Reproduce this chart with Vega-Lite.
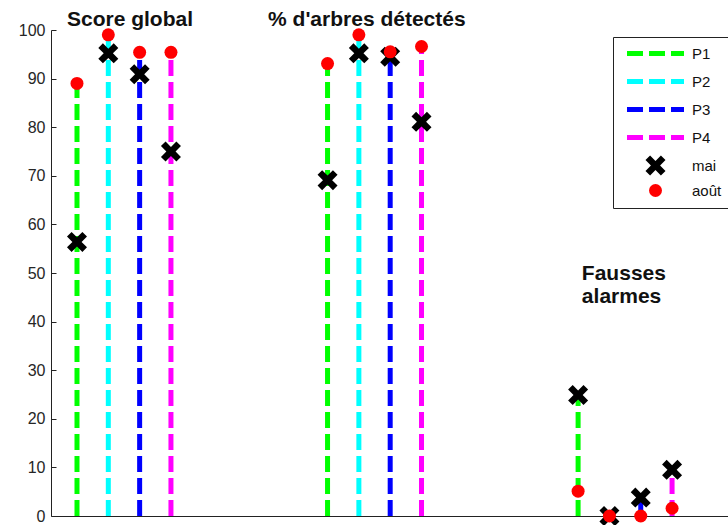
{
  "$schema": "https://vega.github.io/schema/vega-lite/v6.json",
  "width": 677,
  "height": 486,
  "autosize": {"type": "none"},
  "padding": {"left": 51, "top": 30, "right": 0, "bottom": 9},
  "background": "white",
  "config": {
    "view": {"stroke": null},
    "font": "Liberation Sans",
    "axis": {"grid": false, "domainColor": "#222222", "tickColor": "#222222", "domainWidth": 1}
  },
  "datasets": {
    "pts": [
      {"groupe": "Score global", "p": "P1", "x": 1, "mois": "mai", "v": 56.4},
      {"groupe": "Score global", "p": "P2", "x": 2, "mois": "mai", "v": 95.2},
      {"groupe": "Score global", "p": "P3", "x": 3, "mois": "mai", "v": 90.9},
      {"groupe": "Score global", "p": "P4", "x": 4, "mois": "mai", "v": 75.0},
      {"groupe": "% d'arbres détectés", "p": "P1", "x": 9, "mois": "mai", "v": 69.1},
      {"groupe": "% d'arbres détectés", "p": "P2", "x": 10, "mois": "mai", "v": 95.2},
      {"groupe": "% d'arbres détectés", "p": "P3", "x": 11, "mois": "mai", "v": 94.5},
      {"groupe": "% d'arbres détectés", "p": "P4", "x": 12, "mois": "mai", "v": 81.1},
      {"groupe": "Fausses alarmes", "p": "P1", "x": 17, "mois": "mai", "v": 24.9},
      {"groupe": "Fausses alarmes", "p": "P2", "x": 18, "mois": "mai", "v": 0},
      {"groupe": "Fausses alarmes", "p": "P3", "x": 19, "mois": "mai", "v": 3.8},
      {"groupe": "Fausses alarmes", "p": "P4", "x": 20, "mois": "mai", "v": 9.5},
      {"groupe": "Score global", "p": "P1", "x": 1, "mois": "août", "v": 89.0},
      {"groupe": "Score global", "p": "P2", "x": 2, "mois": "août", "v": 99.0},
      {"groupe": "Score global", "p": "P3", "x": 3, "mois": "août", "v": 95.4},
      {"groupe": "Score global", "p": "P4", "x": 4, "mois": "août", "v": 95.4},
      {"groupe": "% d'arbres détectés", "p": "P1", "x": 9, "mois": "août", "v": 93.1},
      {"groupe": "% d'arbres détectés", "p": "P2", "x": 10, "mois": "août", "v": 99.0},
      {"groupe": "% d'arbres détectés", "p": "P3", "x": 11, "mois": "août", "v": 95.5},
      {"groupe": "% d'arbres détectés", "p": "P4", "x": 12, "mois": "août", "v": 96.6},
      {"groupe": "Fausses alarmes", "p": "P1", "x": 17, "mois": "août", "v": 5.1},
      {"groupe": "Fausses alarmes", "p": "P2", "x": 18, "mois": "août", "v": 0},
      {"groupe": "Fausses alarmes", "p": "P3", "x": 19, "mois": "août", "v": 0},
      {"groupe": "Fausses alarmes", "p": "P4", "x": 20, "mois": "août", "v": 1.6}
    ],
    "ann": [
      {"t": "Score global", "x": 0.68, "y": 100.8},
      {"t": "% d'arbres détectés", "x": 7.1, "y": 100.8},
      {"t": "Fausses", "x": 17.12, "y": 48.6},
      {"t": "alarmes", "x": 17.12, "y": 43.8}
    ]
  },
  "layer": [
    {
      "data": {"name": "pts"},
      "transform": [{"aggregate": [{"op": "max", "field": "v", "as": "vmax"}], "groupby": ["p", "x"]}],
      "mark": {"type": "rule", "strokeWidth": 5, "strokeDash": [16, 6], "strokeCap": "butt",
               "strokeDashOffset": {"expr": "(((16 - datum.vmax * 4.86) % 22) + 22) % 22"}},
      "encoding": {
        "x": {"field": "x", "type": "quantitative", "scale": {"domain": [0.17, 21.786], "nice": false, "zero": false},
              "axis": {"labels": false, "ticks": false, "title": null}},
        "y": {"field": "vmax", "type": "quantitative", "scale": {"domain": [0, 100], "nice": false}},
        "y2": {"datum": 0},
        "color": {
          "field": "p", "type": "nominal",
          "scale": {"domain": ["P1", "P2", "P3", "P4", "mai", "août"],
                    "range": ["#00ff00", "#00ffff", "#0000ff", "#ff00ff", "#000000", "#ff0000"]},
          "legend": {
            "title": null,
            "orient": "none",
            "legendX": 562,
            "legendY": 7,
            "strokeColor": "#222222",
            "fillColor": "white",
            "padding": 9,
            "rowPadding": 7,
            "symbolSize": 225,
            "symbolStrokeWidth": 5,
            "symbolOffset": 26,
            "labelOffset": 29,
            "labelFont": "Liberation Sans",
            "labelFontSize": 15,
            "labelColor": "#111111",
            "encode": {
              "symbols": {
                "update": {
                  "shape": {"signal": "datum.value === 'mai' ? 'M-0.54,-1L0,-0.46L0.54,-1L1,-0.54L0.46,0L1,0.54L0.54,1L0,0.46L-0.54,1L-1,0.54L-0.46,0L-1,-0.54Z' : datum.value === 'août' ? 'circle' : 'stroke'"},
                  "size": {"signal": "datum.value === 'mai' ? 400 : datum.value === 'août' ? 169 : 3249"},
                  "fill": {"signal": "scale('color', datum.value)"},
                  "stroke": {"signal": "scale('color', datum.value)"},
                  "strokeWidth": {"signal": "datum.value === 'mai' || datum.value === 'août' ? 0 : 5"},
                  "strokeDash": {"signal": "datum.value === 'mai' || datum.value === 'août' ? [] : [16, 6]"},
                  "opacity": {"value": 1}
                }
              }
            }
          }
        }
      }
    },
    {
      "data": {"name": "pts"},
      "transform": [{"filter": {"field": "mois", "equal": "mai"}}],
      "mark": {"type": "point", "filled": true, "opacity": 1, "size": 400,
               "shape": "M-0.54,-1L0,-0.46L0.54,-1L1,-0.54L0.46,0L1,0.54L0.54,1L0,0.46L-0.54,1L-1,0.54L-0.46,0L-1,-0.54Z"},
      "encoding": {
        "x": {"field": "x", "type": "quantitative"},
        "y": {"field": "v", "type": "quantitative",
              "axis": {"title": null, "values": [0, 10, 20, 30, 40, 50, 60, 70, 80, 90, 100], "tickSize": -5,
                       "labelPadding": 11, "labelFontSize": 16, "labelFont": "Liberation Sans", "labelColor": "#262626"}},
        "color": {"field": "mois", "type": "nominal"}
      }
    },
    {
      "data": {"name": "pts"},
      "transform": [{"filter": {"field": "mois", "equal": "août"}}],
      "mark": {"type": "point", "filled": true, "opacity": 1, "size": 169, "shape": "circle"},
      "encoding": {
        "x": {"field": "x", "type": "quantitative"},
        "y": {"field": "v", "type": "quantitative"},
        "color": {"field": "mois", "type": "nominal"}
      }
    },
    {
      "data": {"name": "ann"},
      "mark": {"type": "text", "align": "left", "baseline": "alphabetic", "fontWeight": "bold", "fontSize": 21,
               "font": "Liberation Sans", "color": "#111111"},
      "encoding": {
        "x": {"field": "x", "type": "quantitative"},
        "y": {"field": "y", "type": "quantitative"},
        "text": {"field": "t"}
      }
    }
  ]
}
